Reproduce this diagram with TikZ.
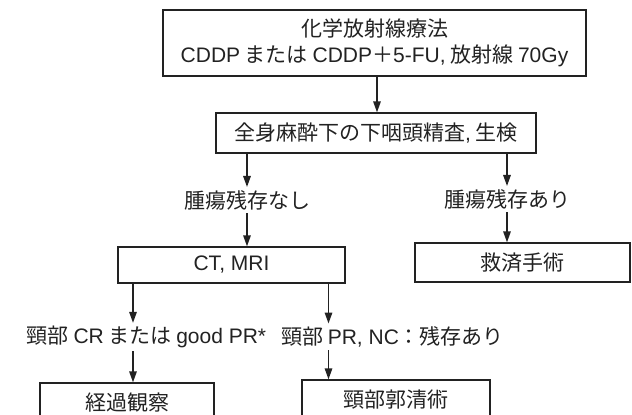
\documentclass[tikz,border=0pt]{standalone}
\usepackage{fontspec}
\setmainfont{Noto Sans CJK JP}
\newfontfamily\lat{Liberation Sans}
\usetikzlibrary{arrows.meta}
\definecolor{ink}{HTML}{222222}
\tikzset{
  box/.style={draw=ink, line width=1.3pt, fill=white, text=ink, inner sep=0pt, align=center, font=\fontsize{21}{26}\selectfont},
  lab/.style={text=ink, inner sep=3pt, font=\fontsize{21}{24}\selectfont},
  arr/.style={draw=ink, line width=1.5pt, -{Triangle[length=11pt,width=7.5pt]}}
}
\begin{document}
\begin{tikzpicture}[x=1pt,y=-1pt]
\useasboundingbox (0,0) rectangle (632,415);
\clip (0,0) rectangle (632,415);
\node[box, minimum width=423pt, minimum height=66pt] (chemo) at (374.5,43) {化学放射線療法\\{\lat CDDP} または {\lat CDDP}＋{\lat 5-FU,} 放射線 {\lat 70Gy}};
\node[box, minimum width=320pt, minimum height=40pt] (exam) at (376,133) {全身麻酔下の下咽頭精査{\lat ,} 生検};
\node[lab] (none) at (247,200) {腫瘍残存なし};
\node[lab] (resid) at (507,199) {腫瘍残存あり};
\node[box, minimum width=227pt, minimum height=36pt] (ct) at (231.5,265) {\lat CT, MRI};
\node[box, minimum width=215pt, minimum height=39pt] (salv) at (522.5,262.5) {救済手術};
\node[lab] (cr) at (146.5,337) {頸部 {\lat CR} または {\lat good PR*}};
\node[lab] (pr) at (392.5,337) {頸部 {\lat PR, NC}：残存あり};
\node[box, minimum width=174pt, minimum height=40pt] (obs) at (127,403) {経過観察};
\node[box, minimum width=188pt, minimum height=40pt] (neck) at (396,400) {頸部郭清術};
\draw[arr] (chemo.south -| 377,0) -- (exam.north -| 377,0);
\draw[arr] (none |- exam.south) -- (none.north);
\draw[arr] (none.south) -- (none.south |- ct.north);
\draw[arr] (resid |- exam.south) -- (resid.north);
\draw[arr] (resid.south) -- (resid.south |- salv.north);
\draw[arr] ([xshift=-13.5pt]cr.north |- ct.south) -- ([xshift=-13.5pt]cr.north);
\draw[arr] ([xshift=-13.5pt]cr.south) -- ([xshift=-13.5pt]cr.south |- obs.north);
\draw[arr] ([xshift=-64pt]pr.north |- ct.south) -- ([xshift=-64pt]pr.north);
\draw[arr] ([xshift=-64pt]pr.south) -- ([xshift=-64pt]pr.south |- neck.north);
\end{tikzpicture}
\end{document}
